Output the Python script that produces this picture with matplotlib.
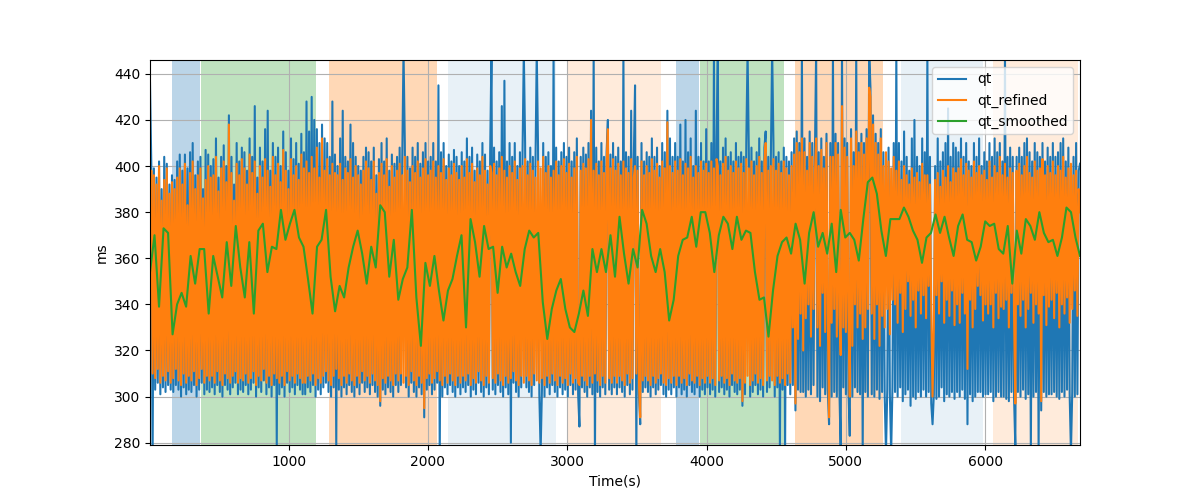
import numpy as np
import matplotlib
matplotlib.use('Agg')
import matplotlib.pyplot as plt

# raw QT interval (ms), one value per sample
qt = [
    436, 401, 270, 399, 303, 395, 306, 402, 301, 390, 304, 404, 302, 401, 305, 392, 303, 396, 302, 394, 305, 402, 303, 405,
    300, 398, 304, 405, 301, 399, 303, 406, 302, 410, 305, 396, 300, 402, 303, 404, 306, 390, 301, 407, 303, 405, 302, 400,
    304, 403, 301, 412, 305, 395, 302, 404, 300, 409, 305, 400, 303, 422, 301, 404, 304, 392, 306, 410, 301, 402, 303, 408,
    302, 406, 305, 398, 301, 412, 303, 404, 306, 426, 300, 395, 304, 408, 302, 402, 307, 416, 301, 424, 304, 398, 300, 410,
    305, 404, 278, 408, 301, 400, 304, 415, 300, 406, 306, 398, 302, 412, 304, 403, 301, 410, 305, 401, 303, 414, 301, 406,
    301, 428, 304, 415, 302, 430, 305, 420, 300, 416, 303, 410, 301, 418, 304, 412, 306, 410, 302, 404, 300, 428, 304, 405,
    278, 400, 303, 412, 300, 424, 304, 404, 301, 402, 305, 418, 302, 410, 300, 404, 304, 400, 301, 398, 306, 404, 302, 408,
    304, 406, 301, 402, 305, 408, 302, 396, 300, 403, 296, 410, 303, 402, 301, 412, 304, 398, 302, 405, 300, 401, 305, 404,
    302, 408, 305, 402, 450, 410, 304, 404, 300, 399, 306, 408, 302, 404, 300, 410, 304, 401, 301, 406, 291, 410, 303, 402,
    305, 404, 301, 410, 303, 402, 306, 435, 272, 406, 300, 410, 304, 400, 301, 405, 305, 402, 302, 407, 300, 404, 304, 400,
    301, 406, 304, 402, 302, 412, 305, 404, 300, 408, 303, 398, 301, 405, 306, 402, 302, 410, 300, 405, 304, 398, 301, 406,
    450, 303, 408, 301, 402, 305, 406, 302, 426, 300, 437, 304, 402, 301, 410, 280, 404, 306, 410, 302, 400, 300, 406, 304,
    405, 450, 410, 304, 402, 302, 408, 300, 404, 305, 400, 450, 408, 301, 276, 303, 410, 300, 404, 304, 406, 301, 400, 305,
    450, 302, 408, 300, 402, 304, 406, 301, 410, 303, 404, 300, 408, 305, 402, 301, 406, 303, 412, 301, 287, 404, 304, 408,
    302, 405, 300, 410, 304, 424, 301, 450, 272, 408, 302, 402, 300, 410, 304, 404, 301, 406, 420, 303, 405, 301, 410, 304,
    404, 301, 408, 304, 402, 302, 450, 300, 406, 305, 404, 301, 424, 303, 402, 435, 272, 404, 301, 288, 410, 302, 402, 304,
    406, 302, 404, 300, 412, 304, 404, 301, 408, 303, 400, 305, 410, 301, 406, 300, 424, 303, 412, 301, 404, 304, 410, 300,
    404, 304, 418, 301, 402, 303, 420, 300, 406, 305, 412, 302, 400, 301, 424, 304, 404, 300, 410, 303, 402, 301, 416, 304,
    402, 301, 410, 303, 450, 300, 410, 450, 302, 402, 304, 408, 301, 412, 303, 404, 300, 406, 305, 402, 302, 410, 301, 404,
    303, 406, 296, 404, 301, 410, 450, 404, 300, 408, 302, 402, 305, 406, 301, 412, 303, 402, 300, 408, 415, 302, 404, 304,
    404, 450, 410, 300, 404, 304, 406, 276, 402, 303, 408, 276, 404, 305, 402, 301, 406, 305, 412, 294, 415, 303, 410, 302,
    450, 302, 412, 300, 404, 303, 415, 301, 410, 305, 402, 450, 300, 406, 298, 412, 304, 404, 301, 414, 303, 288, 410, 300,
    450, 302, 414, 300, 410, 303, 276, 450, 304, 412, 301, 410, 303, 283, 416, 300, 406, 304, 450, 302, 410, 301, 414, 276,
    410, 302, 416, 300, 450, 434, 301, 422, 300, 414, 303, 410, 299, 416, 302, 406, 300, 276, 303, 408, 301, 276, 304, 410,
    302, 450, 300, 410, 304, 402, 298, 415, 301, 404, 303, 398, 296, 412, 300, 420, 299, 404, 302, 400, 300, 412, 303, 406,
    300, 450, 302, 404, 297, 288, 301, 400, 299, 412, 300, 402, 304, 406, 298, 410, 301, 425, 300, 404, 302, 410, 299, 408,
    302, 406, 300, 412, 303, 404, 299, 410, 288, 402, 301, 400, 298, 410, 300, 404, 302, 412, 302, 400, 300, 406, 301, 402,
    301, 410, 302, 404, 298, 412, 300, 406, 302, 410, 300, 402, 300, 450, 299, 404, 298, 408, 302, 404, 300, 278, 404, 302,
    408, 300, 404, 303, 410, 299, 412, 301, 406, 276, 402, 300, 410, 302, 406, 276, 404, 294, 410, 302, 402, 300, 408, 301,
    404, 301, 410, 302, 404, 300, 406, 299, 410, 302, 412, 300, 402, 303, 408, 301, 276, 302, 404, 300, 410, 301, 398, 401,
]

# refined QT interval (ms), same samples
qt_refined = [
    352, 398, 310, 396, 308, 392, 312, 400, 306, 385, 309, 394, 307, 399, 311, 388, 306, 393, 308, 390, 312, 395, 307, 399,
    305, 392, 310, 401, 306, 383, 309, 397, 307, 402, 311, 390, 305, 396, 308, 399, 312, 386, 306, 394, 309, 400, 307, 395,
    309, 396, 306, 404, 311, 389, 307, 399, 305, 402, 310, 393, 308, 418, 306, 397, 309, 385, 311, 401, 306, 396, 308, 403,
    307, 399, 310, 392, 306, 405, 308, 397, 311, 402, 305, 388, 309, 400, 307, 395, 312, 403, 306, 398, 309, 391, 305, 404,
    310, 396, 308, 401, 306, 393, 309, 407, 305, 398, 311, 390, 307, 403, 309, 396, 306, 400, 310, 394, 308, 405, 306, 399,
    306, 402, 309, 397, 307, 404, 310, 399, 305, 408, 308, 395, 306, 412, 309, 398, 311, 403, 307, 396, 305, 401, 309, 397,
    312, 396, 308, 401, 305, 394, 309, 399, 306, 397, 310, 403, 307, 395, 305, 400, 309, 396, 306, 392, 311, 398, 307, 402,
    309, 399, 306, 394, 310, 402, 307, 388, 305, 397, 298, 401, 308, 396, 306, 403, 309, 391, 307, 400, 305, 395, 310, 398,
    307, 401, 310, 396, 306, 404, 309, 398, 305, 393, 311, 400, 307, 397, 305, 402, 309, 395, 306, 399, 295, 403, 308, 396,
    310, 398, 306, 402, 308, 395, 311, 400, 307, 397, 305, 403, 309, 394, 306, 399, 310, 396, 307, 401, 305, 397, 309, 394,
    306, 400, 309, 395, 307, 403, 310, 397, 305, 401, 308, 393, 306, 399, 311, 396, 307, 404, 305, 398, 309, 392, 306, 400,
    397, 308, 401, 306, 396, 310, 399, 307, 404, 305, 398, 309, 395, 306, 400, 308, 397, 311, 402, 307, 394, 305, 399, 309,
    400, 306, 403, 309, 396, 307, 401, 305, 398, 310, 395, 307, 402, 306, 399, 308, 404, 305, 397, 309, 400, 306, 395, 310,
    398, 307, 402, 305, 396, 309, 400, 306, 403, 308, 397, 305, 401, 310, 395, 306, 399, 308, 404, 306, 305, 398, 309, 401,
    307, 399, 305, 403, 309, 420, 306, 398, 310, 401, 307, 396, 305, 402, 309, 397, 306, 400, 416, 308, 399, 306, 403, 309,
    398, 306, 401, 309, 396, 307, 402, 305, 399, 310, 397, 306, 403, 308, 395, 400, 310, 398, 306, 291, 402, 307, 396, 309,
    400, 307, 397, 305, 403, 309, 398, 306, 401, 308, 395, 310, 402, 306, 399, 305, 419, 308, 400, 306, 397, 309, 402, 305,
    398, 309, 403, 306, 396, 308, 401, 305, 399, 310, 404, 307, 395, 306, 400, 309, 397, 305, 402, 308, 398, 306, 401, 309,
    397, 306, 402, 308, 399, 305, 403, 400, 307, 396, 309, 401, 306, 404, 308, 398, 305, 400, 310, 397, 307, 402, 306, 399,
    308, 401, 298, 397, 306, 403, 309, 399, 305, 402, 307, 396, 310, 400, 306, 404, 308, 397, 305, 401, 410, 307, 398, 309,
    400, 307, 403, 305, 398, 309, 401, 306, 397, 308, 402, 305, 399, 310, 396, 306, 400, 330, 405, 297, 410, 325, 406, 336,
    412, 320, 406, 334, 398, 340, 410, 326, 404, 338, 396, 412, 330, 400, 322, 407, 345, 399, 328, 410, 336, 291, 404, 332,
    404, 338, 410, 326, 405, 335, 318, 426, 330, 408, 328, 404, 335, 300, 412, 322, 400, 340, 415, 330, 406, 336, 410, 325,
    405, 330, 412, 338, 434, 430, 336, 418, 325, 410, 340, 405, 322, 412, 335, 400, 330, 406, 338, 402, 327, 399, 342, 404,
    340, 398, 332, 402, 345, 394, 328, 400, 338, 396, 350, 392, 335, 399, 342, 395, 330, 397, 346, 393, 336, 401, 344, 396,
    334, 396, 348, 392, 338, 300, 330, 394, 344, 397, 336, 391, 350, 398, 332, 395, 342, 400, 335, 393, 346, 399, 331, 397,
    340, 399, 332, 403, 345, 396, 336, 401, 312, 398, 342, 395, 330, 402, 338, 397, 348, 400, 344, 396, 333, 398, 340, 394,
    336, 402, 340, 395, 330, 400, 345, 397, 334, 404, 339, 396, 338, 401, 342, 395, 330, 399, 345, 397, 336, 297, 398, 340,
    401, 335, 396, 342, 400, 330, 404, 338, 397, 345, 395, 332, 402, 340, 398, 336, 399, 298, 403, 344, 396, 331, 400, 339,
    397, 342, 402, 334, 396, 345, 400, 330, 398, 340, 404, 336, 395, 343, 399, 332, 401, 338, 396, 346, 398, 335, 390, 380,
]

# smoothed QT (ms)
qt_smoothed = [
    354, 370, 339, 373, 371, 327, 340, 345, 339, 361, 349, 364, 364, 336, 361, 352,
    343, 367, 348, 374, 356, 343, 367, 336, 372, 375, 354, 365, 364, 381, 368, 375,
    381, 369, 365, 351, 336, 365, 368, 381, 352, 337, 348, 343, 356, 365, 372, 362,
    349, 365, 356, 383, 380, 352, 368, 342, 351, 356, 381, 343, 322, 358, 348, 361,
    346, 333, 346, 351, 361, 370, 330, 377, 367, 352, 374, 364, 365, 345, 365, 356,
    362, 354, 348, 364, 372, 369, 371, 341, 325, 338, 346, 351, 338, 330, 328, 336,
    346, 335, 364, 354, 364, 354, 370, 352, 378, 362, 349, 364, 356, 381, 375, 361,
    354, 364, 354, 333, 342, 361, 368, 369, 378, 365, 380, 380, 371, 354, 370, 378,
    375, 364, 378, 368,
    372, 371, 354, 342, 343, 326, 346, 361, 367, 369, 362, 375, 368, 349, 371, 380,
    365, 371, 362, 375, 354, 381, 369, 371, 368, 359, 377, 393, 395, 388, 372, 361,
    377, 377, 377, 382, 378, 372, 368, 358, 369, 371, 379, 371, 378, 369, 361, 374,
    379, 368, 367, 359, 365, 376, 374, 375, 364, 362, 374, 349, 372, 362, 377, 374,
    368, 380, 371, 367, 368, 361, 369, 382, 380, 369, 361,
]

t_start, t_end = 5, 6680

# labelled segments (start s, end s, colour, alpha)
seg_start = [165, 374, 1288, 2144, 3007, 3777, 3950, 4633, 5396, 6058]
seg_end = [367, 1194, 2065, 2921, 3676, 3942, 4554, 5266, 5986, 6669]
seg_color = ['tab:blue', 'tab:green', 'tab:orange', 'tab:blue', 'tab:orange',
             'tab:blue', 'tab:green', 'tab:orange', 'tab:blue', 'tab:orange']
seg_alpha = [0.3, 0.3, 0.3, 0.1, 0.15, 0.3, 0.3, 0.3, 0.1, 0.15]

t = np.linspace(t_start, t_end, len(qt))
t_s = np.linspace(t_start, t_end, len(qt_smoothed))

fig, ax = plt.subplots(figsize=(12, 5), dpi=100)
for s, e, c, a in zip(seg_start, seg_end, seg_color, seg_alpha):
    ax.axvspan(s, e, color=c, alpha=a, lw=0)

ax.plot(t, qt, label='qt')
ax.plot(t, qt_refined, label='qt_refined')
ax.plot(t_s, qt_smoothed, label='qt_smoothed')

ax.set_xlim(t_start, t_end)
ax.set_ylim(279, 446)
ax.set_xlabel('Time(s)')
ax.set_ylabel('ms')
ax.grid(True)
ax.legend(loc='upper right')

fig.savefig('out.png')
